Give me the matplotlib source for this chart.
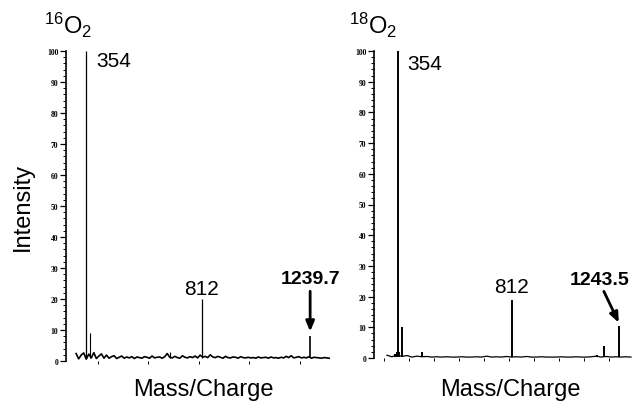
import numpy as np
import matplotlib
matplotlib.use("Agg")
import matplotlib.pyplot as plt
from matplotlib.ticker import MultipleLocator

plt.rcParams['font.family'] = ['Liberation Sans', 'DejaVu Sans']
plt.rcParams['mathtext.fontset'] = 'custom'
plt.rcParams['mathtext.rm'] = 'Liberation Sans'
plt.rcParams['mathtext.it'] = 'Liberation Sans'

# ---------------- data ----------------
titles = ["16", "18"]

# left spectrum (16O2)
left_peak_mz = [354, 368, 686, 812, 1239.7]
left_peak_int = [100, 9, 3, 20, 8]
left_base_mz = list(range(315, 1316, 10))
left_base_int = [2.4, 0.7, 1.9, 2.6, 0.6, 2.2, 1.0, 2.7, 0.8, 1.6, 2.3, 0.9,
                 1.9, 0.9, 1.4, 1.7, 0.8, 1.2, 1.6, 0.9, 1.3, 1.0, 1.4, 0.8,
                 1.3, 1.1, 0.9, 1.4, 1.2, 0.9, 1.6, 1.0, 1.2, 1.3, 0.9,
                 1.4, 2.4, 1.2, 1.0, 1.5, 1.1, 0.9, 1.7, 1.2, 1.0, 1.4,
                 1.1, 1.6, 1.0, 1.9, 1.2, 1.5, 1.1, 2.0, 1.3, 1.1, 1.5,
                 1.2, 0.9, 1.5, 1.1, 1.0, 1.3, 1.2, 0.9, 1.4, 1.1, 1.0,
                 1.2, 1.0, 1.1, 0.9, 1.3, 1.0, 1.1, 1.2, 0.9, 1.3, 1.0,
                 1.1, 0.9, 1.2, 1.0, 1.5, 1.1, 1.7, 1.0, 1.2, 1.4, 1.0,
                 1.2, 1.0, 1.4, 0.9, 1.2, 1.1, 1.0, 0.9, 1.1, 1.0, 0.9]
left_labels = ["354", "812", "1239.7"]

# right spectrum (18O2)
right_peak_mz = [342, 350, 354, 358, 370, 450, 703, 812, 1153, 1181, 1243.5]
right_peak_int = [1.2, 1.8, 100, 2.0, 10, 2.0, 0.8, 19, 1.0, 4, 10.5]
right_base_mz = list(range(310, 1300, 20))
right_base_int = [0.9, 0.4, 1.0, 0.5, 0.8, 0.3, 0.6, 0.4, 0.5, 0.3,
                  0.4, 0.3, 0.4, 0.3, 0.3, 0.4, 0.3, 0.3, 0.4, 0.3,
                  0.6, 0.3, 0.4, 0.3, 0.5, 0.3, 0.4, 0.3, 0.5, 0.3,
                  0.3, 0.4, 0.3, 0.3, 0.3, 0.4, 0.3, 0.3, 0.4, 0.3,
                  0.3, 0.4, 0.6, 0.3, 0.5, 0.3, 0.4, 0.3, 0.4, 0.3]
right_labels = ["354", "812", "1243.5"]

yticks = list(range(0, 101, 10))

fig = plt.figure(figsize=(6.33, 4.02), dpi=100)

def px(x0, y0, x1, y1):
    W, H = 633, 402
    return [x0 / W, 1 - y1 / H, (x1 - x0) / W, (y1 - y0) / H]

axL = fig.add_axes(px(66, 52, 333, 362))
axR = fig.add_axes(px(374, 52, 633, 359))

def style(ax, xlim, xmajor):
    ax.set_xlim(*xlim)
    ax.set_ylim(0, 100)
    for s in ['top', 'right', 'bottom']:
        ax.spines[s].set_visible(False)
    ax.spines['left'].set_linewidth(1.2)
    ax.set_yticks(yticks)
    ax.yaxis.set_minor_locator(MultipleLocator(2))
    ax.tick_params(axis='y', which='major', direction='out', length=4, width=0.9,
                   labelsize=5.5, pad=1.5)
    ax.tick_params(axis='y', which='minor', direction='out', length=2, width=0.7)
    for lab in ax.get_yticklabels():
        lab.set_fontfamily('Liberation Serif')
        lab.set_fontweight('bold')
    ax.xaxis.set_major_locator(MultipleLocator(xmajor))
    ax.tick_params(axis='x', which='major', direction='out', length=2.5, width=0.7,
                   labelbottom=False)

style(axL, (275, 1330), 200)
style(axR, (258, 1298), 100)

# left spectrum
axL.plot(left_base_mz, left_base_int, color='black', lw=1.2)
axL.vlines(left_peak_mz, 1.0, left_peak_int, color='black', lw=[0.9, 0.8, 0.8, 0.9, 1.2])
axL.text(394, 97, left_labels[0], fontsize=15, ha='left', va='center')
axL.text(812, 23.5, left_labels[1], fontsize=15, ha='center', va='center')
axL.text(1239.7, 26.5, left_labels[2], fontsize=14, fontweight='bold',
         ha='center', va='center', clip_on=False)
axL.annotate('', xy=(1239.7, 9.5), xytext=(1239.7, 22.5),
             arrowprops=dict(arrowstyle='-|>,head_length=0.6,head_width=0.25',
                             color='black', lw=2.0, shrinkA=0, shrinkB=0))

# right spectrum
axR.plot(right_base_mz, right_base_int, color='black', lw=0.9)
axR.vlines(right_peak_mz, 0.3, right_peak_int, color='black', lw=1.4)
axR.text(390, 96, right_labels[0], fontsize=15, ha='left', va='center')
axR.text(812, 23.3, right_labels[1], fontsize=15, ha='center', va='center')
axR.text(1165, 25.6, right_labels[2], fontsize=14, fontweight='bold',
         ha='center', va='center', clip_on=False)
axR.annotate('', xy=(1241, 11.5), xytext=(1181, 21.7),
             arrowprops=dict(arrowstyle='-|>,head_length=0.6,head_width=0.25',
                             color='black', lw=2.0, shrinkA=0, shrinkB=0),
             annotation_clip=False)

# titles and axis labels
fig.text(68 / 633, 1 - 25 / 402, r'$^{%s}\mathrm{O}_{2}$' % titles[0], fontsize=17,
         ha='center', va='center')
fig.text(373 / 633, 1 - 25 / 402, r'$^{%s}\mathrm{O}_{2}$' % titles[1], fontsize=17,
         ha='center', va='center')
fig.text(23 / 633, 1 - 207 / 402, 'Intensity', fontsize=17, rotation=90,
         ha='center', va='center')
fig.text(203 / 633, 1 - 390 / 402, 'Mass/Charge', fontsize=17, ha='center', va='center')
fig.text(510 / 633, 1 - 390 / 402, 'Mass/Charge', fontsize=17, ha='center', va='center')

fig.savefig('out.png', dpi=100)
